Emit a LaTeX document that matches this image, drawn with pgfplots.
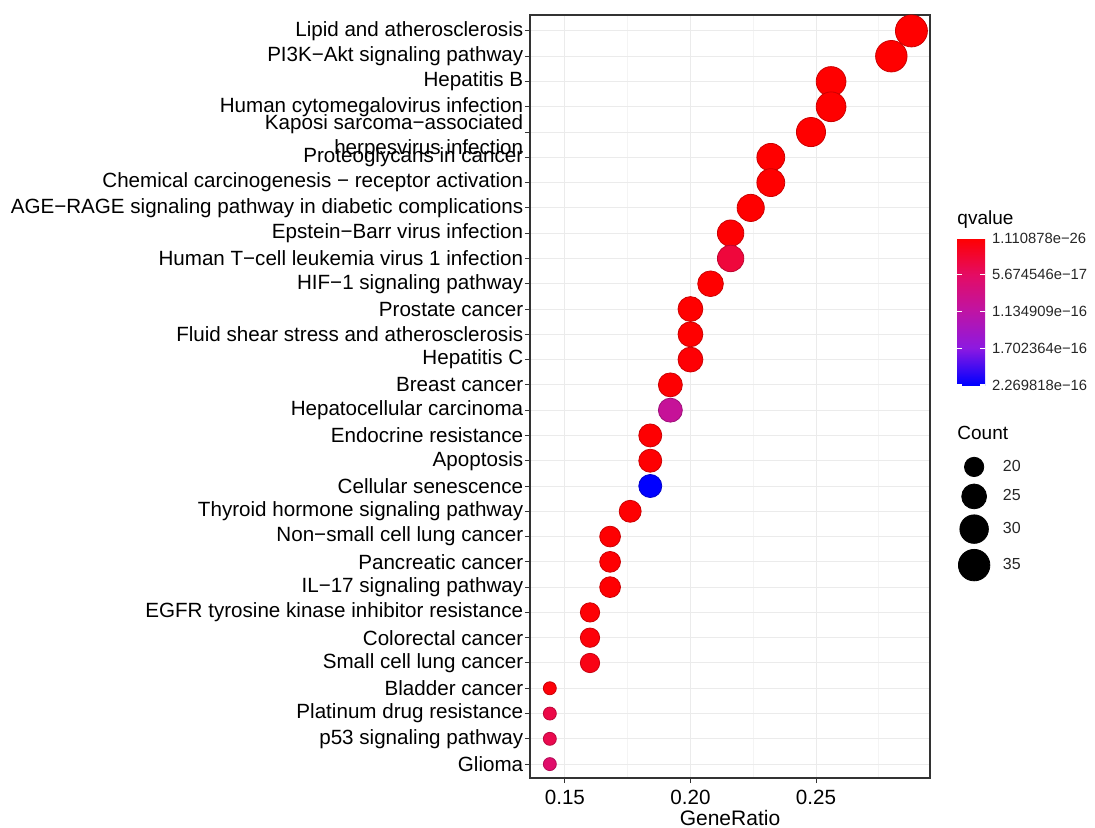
\documentclass[border=0pt]{standalone}
\usepackage{pgfplots}
\pgfplotsset{compat=1.18}
\usepackage{pgfplotstable}
\usepackage{fontspec}
\setmainfont{Liberation Sans}

% KEGG enrichment: idx (1 = bottom row), GeneRatio, Count, qvalue in units of 1e-16
\pgfplotstableread{
idx ratio count q
30 0.288 36 0.0000
29 0.280 35 0.0000
28 0.256 32 0.0000
27 0.256 32 0.0000
26 0.248 31 0.0000
25 0.232 29 0.0000
24 0.232 29 0.0000
23 0.224 28 0.0000
22 0.216 27 0.0100
21 0.216 27 0.3400
20 0.208 26 0.0000
19 0.200 25 0.0000
18 0.200 25 0.0000
17 0.200 25 0.0200
16 0.192 24 0.0100
15 0.192 24 1.0200
14 0.184 23 0.0100
13 0.184 23 0.0100
12 0.184 23 2.269818
11 0.176 22 0.0100
10 0.168 21 0.0100
9  0.168 21 0.0100
8  0.168 21 0.0100
7  0.160 20 0.0300
6  0.160 20 0.0500
5  0.160 20 0.1200
4  0.144 18 0.0500
3  0.144 18 0.4000
2  0.144 18 0.4500
1  0.144 18 0.6200
}\kegg

\begin{document}
\begin{tikzpicture}
\path[use as bounding box] (-265pt,-24.5pt) rectangle (282.5pt,389pt);
\begin{axis}[
    name=main,
    scale only axis,
    clip=false,
    width=200pt, height=381.5pt,
    xmin=0.1361, xmax=0.2954,
    ymin=0.45, ymax=30.63,
    xtick={0.15,0.20,0.25},
    xticklabels={0.15,0.20,0.25},
    minor xtick={0.175,0.225,0.275},
    ytick={1,...,30},
    yticklabels={
        Glioma,
        p53 signaling pathway,
        Platinum drug resistance,
        Bladder cancer,
        Small cell lung cancer,
        Colorectal cancer,
        EGFR tyrosine kinase inhibitor resistance,
        IL−17 signaling pathway,
        Pancreatic cancer,
        Non−small cell lung cancer,
        Thyroid hormone signaling pathway,
        Cellular senescence,
        Apoptosis,
        Endocrine resistance,
        Hepatocellular carcinoma,
        Breast cancer,
        Hepatitis C,
        Fluid shear stress and atherosclerosis,
        Prostate cancer,
        HIF−1 signaling pathway,
        Human T−cell leukemia virus 1 infection,
        Epstein−Barr virus infection,
        AGE−RAGE signaling pathway in diabetic complications,
        Chemical carcinogenesis − receptor activation,
        Proteoglycans in cancer,
        {\raisebox{-5pt}[0pt][0pt]{\begin{tabular}{@{}r@{}}Kaposi sarcoma−associated\\herpesvirus infection\end{tabular}}},
        Human cytomegalovirus infection,
        Hepatitis B,
        PI3K−Akt signaling pathway,
        Lipid and atherosclerosis},
    grid=both,
    major grid style={draw=gray!16, line width=0.5pt},
    minor grid style={draw=gray!9, line width=0.3pt},
    minor tick length=0pt,
    tick align=outside,
    major tick length=2.6pt,
    tick style={draw=black!80, line width=0.5pt},
    xtick pos=bottom, ytick pos=left,
    axis line style={draw=black!80, line width=0.6pt},
    ticklabel style={font=\fontsize{10.3}{12.5}\selectfont},
    yticklabel style={inner xsep=0.6pt},
    /pgf/number format/assume math mode=true,
    xlabel={GeneRatio},
    xlabel style={at={(axis description cs:0.5,0)}, anchor=center,
        yshift=-20pt, font=\fontsize{10.5}{12}\selectfont},
    colormap={qv}{rgb255(0)=(0,0,255) rgb255(1)=(140,25,225)
        rgb255(2)=(190,20,165) rgb255(3)=(228,12,100) rgb255(4)=(255,0,0)},
    point meta min=-2.269818, point meta max=0,
    colorbar,
    colorbar style={
        at={(parent axis.north east)}, anchor=north west,
        xshift=5pt, yshift=-111.5pt,
        scale only axis,
        width=14pt, height=73.5pt,
        ytick={-2.269818,-1.702364,-1.134909,-0.5674546,0},
        yticklabels={2.269818e−16,1.702364e−16,1.134909e−16,5.674546e−17,1.110878e−26},
        yticklabel style={font=\fontsize{7.4}{9}\selectfont, text=black!85},
        ytick pos=both, yticklabel pos=right,
        tick align=inside,
        major tick length=2.5pt,
        tick style={draw=white, line width=0.6pt},
        axis line style={draw=none},
        title={qvalue},
        title style={at={(0,1)}, anchor=south west, inner sep=0pt,
            yshift=-1.5pt, font=\fontsize{9.5}{11}\selectfont},
    },
    legend style={at={(axis description cs:1.055,0.428)}, anchor=north west,
        draw=none, fill=none, row sep=3pt,
        /tikz/every odd column/.append style={column sep=4.5pt},
        font=\fontsize{8}{9.6}\selectfont, text=black!85},
    legend cell align=left,
]

\addplot[scatter, only marks, mark=*, forget plot,
    point meta={-\thisrow{q}},
    visualization depends on={\thisrow{count} \as \cnt},
    scatter/@pre marker code/.append style={/tikz/mark size={3.25+1.12*sqrt(\cnt-18)}}]
    table[x=ratio, y=idx] {\kegg};

\addlegendimage{only marks, mark=*, black, mark size=4.83pt}
\addlegendentry{20}
\addlegendimage{only marks, mark=*, black, mark size=6.21pt}
\addlegendentry{25}
\addlegendimage{only marks, mark=*, black, mark size=7.13pt}
\addlegendentry{30}
\addlegendimage{only marks, mark=*, black, mark size=7.87pt}
\addlegendentry{35}

\node[anchor=west, inner sep=0pt, font=\fontsize{9.5}{11}\selectfont]
    at (axis description cs:1.0675,0.452) {Count};
\end{axis}
\end{tikzpicture}
\end{document}
